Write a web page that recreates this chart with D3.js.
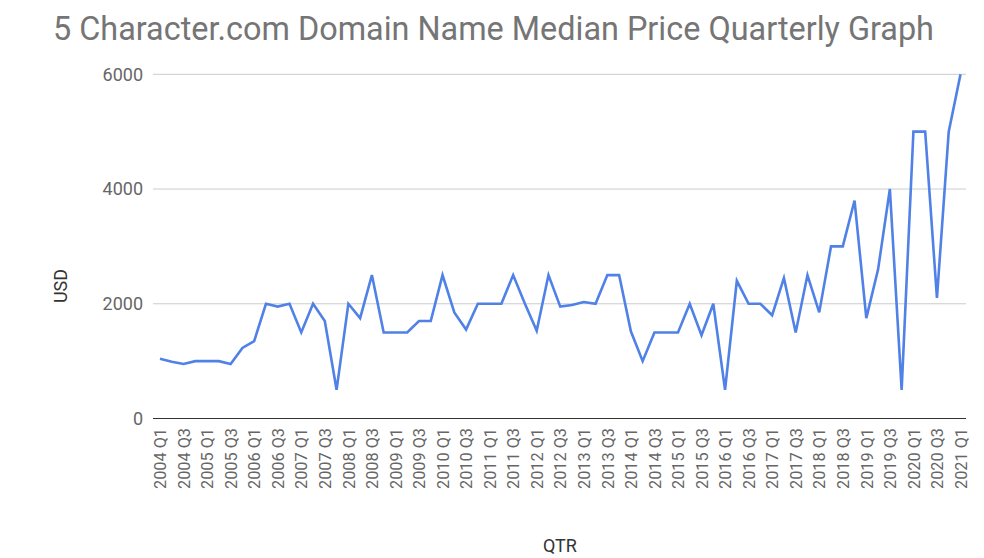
<!DOCTYPE html>
<html><head><meta charset="utf-8">
<script src="https://cdn.jsdelivr.net/npm/d3@7"></script>
<style>body{margin:0;background:#fff}svg{display:block}text{font-family:Roboto,"Noto Sans",sans-serif}</style>
</head><body><svg id="c" width="984" height="558"></svg>
<script>
const title = "5 Character.com Domain Name Median Price Quarterly Graph";
const years = d3.range(2004, 2022);
const quarters = years.flatMap(y => [1,2,3,4].map(q => `${y} Q${q}`)).slice(0, 69);
const prices = [
  1040, 990, 950, 1000,
  1000, 1000, 950, 1230,
  1350, 2000, 1950, 2000,
  1500, 2000, 1700, 500,
  2000, 1750, 2500, 1500,
  1500, 1500, 1700, 1700,
  2500, 1850, 1550, 2000,
  2000, 2000, 2500, 2000,
  1530, 2500, 1950, 1980,
  2030, 2000, 2500, 2500,
  1520, 1000, 1500, 1500,
  1500, 2000, 1450, 2000,
  500, 2400, 2000, 2000,
  1800, 2450, 1500, 2500,
  1850, 3000, 3000, 3800,
  1750, 2600, 4000, 500,
  5000, 5000, 2100, 5000,
  6000
];
const yTicks = [0, 2000, 4000, 6000];
const tickLabels = quarters.filter((d, i) => i % 2 === 0);

const svg = d3.select("#c");
const gridL = 153, gridR = 966;
const x = d3.scalePoint().domain(quarters).range([160, 960.5]);
const y = d3.scaleLinear().domain([0, 6000]).range([418.5, 74.3]);

svg.append("text").attr("x", 53).attr("y", 40).attr("font-size", 32.4)
  .attr("fill", "#757575").text(title);

// gridlines
svg.append("g").selectAll("line").data(yTicks.filter(d => d > 0)).join("line")
  .attr("x1", gridL).attr("x2", gridR).attr("y1", d => y(d)).attr("y2", d => y(d))
  .attr("stroke", "#cccccc").attr("stroke-width", 1);

// y axis labels
const yAxis = d3.axisLeft(y).tickValues(yTicks).tickSize(0).tickPadding(0).tickFormat(d3.format("d"));
const gy = svg.append("g").attr("transform", `translate(143,0)`).call(yAxis);
gy.select(".domain").remove();
gy.selectAll("text").attr("font-size", 18).attr("fill", "#666").attr("font-family", "Roboto");

// x axis labels
const xAxis = d3.axisBottom(x).tickValues(tickLabels).tickSize(0).tickPadding(0);
const gx = svg.append("g").attr("transform", `translate(0,428)`).call(xAxis);
gx.select(".domain").remove();
gx.selectAll("text").attr("font-size", 16.3).attr("fill", "#666").attr("font-family", "Roboto")
  .attr("transform", "rotate(-90)").attr("text-anchor", "end").attr("dy", "0.35em").attr("x", 0).attr("y", 0);

// line
const line = d3.line().x((d, i) => x(quarters[i])).y(d => y(d));
svg.append("path").datum(prices).attr("d", line).attr("fill", "none")
  .attr("stroke", "#4f81e7").attr("stroke-width", 2.6).attr("stroke-linejoin", "miter");

// baseline
svg.append("line").attr("x1", gridL).attr("x2", gridR).attr("y1", y(0)).attr("y2", y(0))
  .attr("stroke", "#333").attr("stroke-width", 1.2);

// axis titles
svg.append("text").attr("transform", "translate(67,286) rotate(-90)").attr("text-anchor", "middle")
  .attr("font-size", 18).attr("fill", "#333").text("USD");
svg.append("text").attr("x", 560).attr("y", 552).attr("text-anchor", "middle")
  .attr("font-size", 18).attr("fill", "#333").text("QTR");
</script></body></html>
